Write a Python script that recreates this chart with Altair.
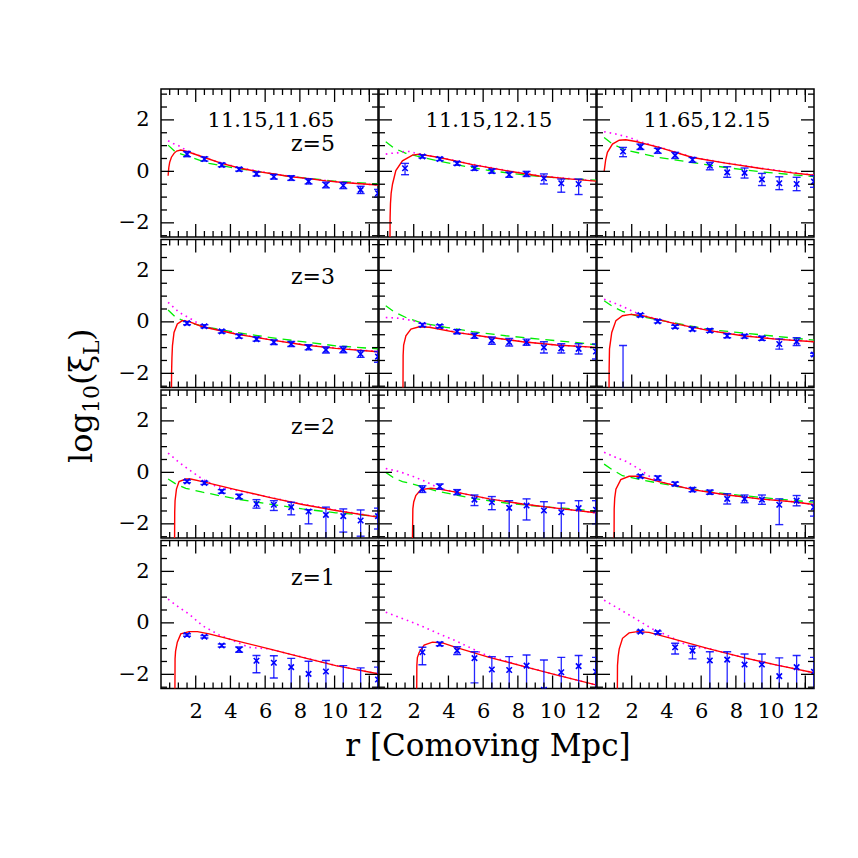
import altair as alt
import pandas as pd

FONT = "DejaVu Serif"
BLUE = "#0000ff"
RED = "#ff0000"
MAGENTA = "#ff00ff"
GREEN = "#00ee00"

R_PTS = [1.5, 2.5, 3.5, 4.5, 5.5, 6.5, 7.5, 8.5, 9.5, 10.5, 11.5, 12.5]
MASS_LABELS = ["11.15,11.65", "11.15,12.15", "11.65,12.15"]
Z_LABELS = ["z=5", "z=3", "z=2", "z=1"]
X_TICKLABELS = [2, 4, 6, 8, 10, 12]
Y_TICKLABELS = [-2, 0, 2]
X_MINOR = [0.5, 1, 1.5, 2.5, 3, 3.5, 4.5, 5, 5.5, 6.5, 7, 7.5, 8.5, 9, 9.5, 10.5, 11, 11.5, 12]
Y_MINOR = [-2.5, -1.5, -1, -0.5, 0.5, 1, 1.5, 2.5, 3]
X_TITLE = "r [Comoving Mpc]"

# ---------------- row 0 : z=5 ----------------
P00_px = R_PTS
P00_y = [0.67, 0.48, 0.25, 0.08, -0.10, -0.21, -0.26, -0.39, -0.53, -0.55, -0.72, -0.85]
P00_lo = [0.57, 0.40, 0.18, 0.01, -0.18, -0.30, -0.35, -0.49, -0.64, -0.67, -0.86, -1.0]
P00_hi = [0.77, 0.56, 0.32, 0.15, -0.02, -0.12, -0.17, -0.29, -0.42, -0.43, -0.58, -0.7]
P00_red_x = [0.41, 0.45, 0.5, 0.6, 0.75, 0.9, 1.14, 1.5, 2.5, 3.5, 4.5, 5.5, 6.5, 7.5, 8.5, 9.5, 10.5, 11.5, 12.5]
P00_red_y = [-0.17, 0.15, 0.35, 0.55, 0.7, 0.79, 0.83, 0.77, 0.54, 0.31, 0.13, 0.0, -0.1, -0.21, -0.28, -0.37, -0.43, -0.48, -0.53]
P00_mag_x = [0.41, 0.7, 1.04, 1.43, 2.0, 3.0, 4.5, 6.5, 8.5, 10.5, 12.5]
P00_mag_y = [1.19, 1.08, 0.99, 0.83, 0.66, 0.42, 0.14, -0.1, -0.28, -0.43, -0.53]
P00_grn_x = [0.41, 0.85, 1.62, 2.77, 4.5, 7.38, 10.0, 12.5]
P00_grn_y = [1.02, 0.74, 0.57, 0.31, 0.1, -0.19, -0.38, -0.49]

P01_px = R_PTS[:11]
P01_y = [0.12, 0.58, 0.48, 0.31, 0.12, 0.01, -0.13, -0.10, -0.27, -0.46, -0.49]
P01_lo = [-0.13, 0.52, 0.42, 0.24, 0.04, -0.07, -0.23, -0.2, -0.49, -0.81, -0.9]
P01_hi = [0.31, 0.64, 0.54, 0.38, 0.2, 0.09, -0.03, 0.0, -0.1, -0.3, -0.3]
P01_red_x = [0.63, 0.64, 0.66, 0.7, 0.78, 0.97, 1.35, 1.93, 2.3, 3.47, 5.39, 7.31, 9.23, 11.1, 12.5]
P01_red_y = [-3.0, -1.8, -1.26, -0.85, -0.49, 0.03, 0.41, 0.63, 0.67, 0.54, 0.26, 0.03, -0.18, -0.30, -0.38]
P01_mag_x = [0.39, 0.68, 1.07, 1.45, 1.74, 2.03, 3.5, 5.4, 7.3, 9.2, 11.1, 12.5]
P01_mag_y = [0.67, 0.70, 0.72, 0.77, 0.77, 0.72, 0.54, 0.27, 0.04, -0.17, -0.29, -0.37]
P01_grn_x = [0.39, 0.87, 1.55, 2.51, 4.43, 6.35, 8.5, 10.5, 12.5]
P01_grn_y = [1.15, 0.90, 0.70, 0.54, 0.26, 0.03, -0.15, -0.27, -0.34]

P02_px = R_PTS
P02_y = [0.77, 0.95, 0.81, 0.62, 0.45, 0.22, -0.04, -0.06, -0.31, -0.46, -0.49, -0.4]
P02_lo = [0.57, 0.85, 0.7, 0.5, 0.35, 0.06, -0.23, -0.26, -0.55, -0.71, -0.75, -0.62]
P02_hi = [0.93, 1.06, 0.9, 0.74, 0.54, 0.35, 0.18, 0.13, -0.08, -0.21, -0.23, -0.17]
P02_red_x = [0.41, 0.5, 0.6, 0.89, 1.28, 1.66, 2.24, 3.58, 5.5, 7.42, 9.35, 11.27, 12.5]
P02_red_y = [-0.01, 0.45, 0.74, 1.06, 1.21, 1.23, 1.16, 0.93, 0.54, 0.32, 0.12, -0.06, -0.15]
P02_mag_x = [0.41, 1.09, 1.85, 2.5, 3.6, 5.5, 7.4, 9.4, 11.3, 12.5]
P02_mag_y = [1.54, 1.45, 1.32, 1.15, 0.94, 0.55, 0.33, 0.13, -0.05, -0.14]
P02_grn_x = [0.41, 0.89, 1.66, 3.58, 5.5, 7.42, 9.35, 11.27, 12.5]
P02_grn_y = [1.32, 1.06, 0.83, 0.54, 0.34, 0.15, -0.01, -0.13, -0.2]

# ---------------- row 1 : z=3 ----------------
P10_px = R_PTS
P10_y = [-0.05, -0.17, -0.37, -0.56, -0.67, -0.79, -0.86, -0.99, -1.09, -1.08, -1.25, -1.35]
P10_lo = [-0.11, -0.23, -0.43, -0.63, -0.75, -0.88, -0.96, -1.09, -1.21, -1.2, -1.38, -1.57]
P10_hi = [0.01, -0.11, -0.31, -0.49, -0.59, -0.70, -0.76, -0.89, -0.97, -0.96, -1.12, -1.15]
P10_red_x = [0.6, 0.61, 0.63, 0.66, 0.75, 0.94, 1.23, 1.62, 2.39, 4.3, 6.23, 8.15, 10.07, 12.5]
P10_red_y = [-3.0, -1.96, -1.4, -0.92, -0.41, -0.08, 0.05, 0.01, -0.19, -0.47, -0.69, -0.89, -1.03, -1.16]
P10_mag_x = [0.41, 1.04, 1.81, 2.4, 4.3, 6.2, 8.2, 10.1, 12.5]
P10_mag_y = [0.76, 0.37, 0.08, -0.17, -0.46, -0.68, -0.88, -1.02, -1.15]
P10_grn_x = [0.41, 0.85, 1.43, 2.4, 4.3, 6.23, 8.15, 10.07, 12.5]
P10_grn_y = [0.46, 0.17, 0.0, -0.17, -0.41, -0.6, -0.77, -0.93, -1.05]

P11_px = R_PTS[1:]
P11_y = [-0.12, -0.17, -0.38, -0.54, -0.73, -0.79, -0.79, -0.99, -1.03, -1.05, -1.15]
P11_lo = [-0.18, -0.23, -0.46, -0.64, -0.87, -0.94, -0.91, -1.21, -1.21, -1.25, -1.44]
P11_hi = [-0.06, -0.11, -0.30, -0.44, -0.59, -0.64, -0.67, -0.77, -0.85, -0.85, -0.86]
P11_red_x = [1.38, 1.39, 1.42, 1.55, 1.84, 2.32, 2.9, 4.43, 6.35, 8.27, 10.2, 12.5]
P11_red_y = [-3.0, -1.31, -0.9, -0.54, -0.28, -0.19, -0.21, -0.41, -0.6, -0.77, -0.9, -0.99]
P11_mag_x = [0.39, 1.16, 1.92, 2.5, 3.0, 4.4, 6.4, 8.3, 10.2, 12.5]
P11_mag_y = [0.17, 0.14, 0.05, -0.05, -0.15, -0.4, -0.6, -0.77, -0.9, -0.99]
P11_grn_x = [0.39, 0.87, 1.55, 2.5, 3.85, 5.39, 7.3, 9.23, 11.15, 12.5]
P11_grn_y = [0.63, 0.39, 0.17, -0.05, -0.21, -0.38, -0.54, -0.67, -0.79, -0.89]

P12_px = R_PTS
P12_y = [-3.0, 0.26, 0.02, -0.19, -0.28, -0.34, -0.54, -0.56, -0.64, -0.86, -0.77, -1.27]
P12_lo = [-5.0, 0.2, -0.04, -0.25, -0.35, -0.41, -0.62, -0.63, -0.72, -1.06, -0.92, -1.32]
P12_hi = [-0.92, 0.32, 0.08, -0.13, -0.21, -0.27, -0.46, -0.49, -0.56, -0.66, -0.62, -1.22]
P12_red_x = [0.69, 0.7, 0.72, 0.85, 1.09, 1.47, 1.95, 2.62, 4.54, 6.47, 8.39, 10.3, 12.5]
P12_red_y = [-3.0, -1.8, -1.05, -0.41, 0.05, 0.24, 0.29, 0.24, -0.08, -0.34, -0.54, -0.67, -0.77]
P12_mag_x = [0.41, 0.89, 1.47, 2.05, 2.6, 4.5, 6.5, 8.4, 10.3, 12.5]
P12_mag_y = [0.88, 0.76, 0.6, 0.41, 0.26, -0.07, -0.33, -0.53, -0.66, -0.77]
P12_grn_x = [0.41, 0.89, 1.47, 2.24, 4.54, 6.47, 8.39, 10.3, 12.5]
P12_grn_y = [0.82, 0.60, 0.41, 0.24, -0.05, -0.3, -0.43, -0.56, -0.71]

# ---------------- row 2 : z=2 ----------------
P20_px = R_PTS
P20_y = [-0.35, -0.41, -0.74, -0.94, -1.23, -1.26, -1.35, -1.52, -1.65, -1.7, -1.87, -1.7]
P20_lo = [-0.40, -0.47, -0.81, -1.03, -1.39, -1.48, -1.65, -2.0, -3.0, -2.32, -2.48, -2.2]
P20_hi = [-0.30, -0.35, -0.67, -0.85, -1.06, -1.10, -1.16, -1.45, -1.35, -1.42, -1.46, -1.39]
P20_red_x = [0.78, 0.79, 0.81, 0.89, 1.04, 1.43, 1.71, 2.39, 4.3, 6.23, 8.15, 10.07, 12.5]
P20_red_y = [-3.0, -1.55, -1.1, -0.65, -0.36, -0.26, -0.26, -0.36, -0.67, -0.97, -1.25, -1.48, -1.74]
P20_mag_x = [0.41, 1.04, 1.62, 2.39, 3.16, 3.8, 6.2, 8.2, 10.1, 12.5]
P20_mag_y = [0.75, 0.39, 0.1, -0.26, -0.54, -0.62, -0.96, -1.24, -1.47, -1.73]
P20_grn_x = [0.41, 0.85, 1.43, 2.39, 4.3, 6.23, 8.15, 10.07, 12.5]
P20_grn_y = [-0.26, -0.45, -0.62, -0.77, -1.03, -1.23, -1.42, -1.57, -1.71]

P21_px = R_PTS[1:]
P21_y = [-0.65, -0.55, -0.77, -1.06, -1.16, -1.38, -1.29, -1.48, -1.55, -1.39, -1.45]
P21_lo = [-0.78, -0.65, -0.87, -1.29, -1.45, -3.0, -1.85, -3.0, -3.0, -3.0, -2.0]
P21_hi = [-0.52, -0.45, -0.67, -0.88, -0.94, -1.10, -1.03, -1.14, -1.19, -1.10, -1.10]
P21_red_x = [1.92, 1.95, 2.0, 2.12, 2.41, 2.99, 3.47, 4.43, 6.35, 8.27, 10.2, 12.5]
P21_red_y = [-3.0, -1.42, -1.15, -0.9, -0.67, -0.62, -0.65, -0.77, -1.03, -1.23, -1.39, -1.57]
P21_mag_x = [0.39, 1.16, 1.93, 2.7, 3.47, 4.4, 6.35, 8.27, 10.2, 12.5]
P21_mag_y = [0.15, 0.03, -0.15, -0.36, -0.62, -0.77, -1.03, -1.23, -1.39, -1.57]
P21_grn_x = [0.39, 0.87, 1.35, 1.93, 3.47, 5.39, 7.31, 9.23, 11.15, 12.5]
P21_grn_y = [0.0, -0.22, -0.36, -0.45, -0.75, -1.01, -1.19, -1.32, -1.42, -1.51]

P22_px = R_PTS[1:]
P22_y = [-0.15, -0.22, -0.45, -0.67, -0.77, -1.03, -1.03, -1.06, -1.26, -1.1, -1.35]
P22_lo = [-0.21, -0.30, -0.52, -0.75, -0.85, -1.23, -1.18, -1.24, -2.03, -1.3, -1.7]
P22_hi = [-0.09, -0.14, -0.38, -0.59, -0.69, -0.83, -0.88, -0.88, -1.03, -0.9, -1.1]
P22_red_x = [0.98, 0.99, 1.02, 1.09, 1.37, 1.85, 2.43, 3.58, 5.5, 7.42, 9.35, 11.27, 12.5]
P22_red_y = [-3.0, -1.42, -1.0, -0.65, -0.28, -0.15, -0.15, -0.36, -0.67, -0.87, -1.03, -1.14, -1.25]
P22_mag_x = [0.41, 1.09, 1.66, 2.43, 3.1, 3.6, 5.5, 7.4, 9.4, 11.3, 12.5]
P22_mag_y = [0.78, 0.58, 0.43, 0.13, -0.19, -0.36, -0.67, -0.87, -1.03, -1.14, -1.25]
P22_grn_x = [0.41, 0.89, 1.47, 2.62, 4.54, 6.47, 8.39, 10.3, 12.5]
P22_grn_y = [0.32, 0.1, -0.13, -0.3, -0.54, -0.75, -0.9, -1.03, -1.16]

# ---------------- row 3 : z=1 ----------------
P30_px = R_PTS
P30_y = [-0.47, -0.54, -0.88, -1.04, -1.47, -1.55, -1.72, -1.98, -1.89, -2.7, -2.8, -2.2]
P30_lo = [-0.52, -0.59, -0.94, -1.14, -1.94, -2.14, -3.0, -3.0, -3.0, -3.5, -3.5, -3.0]
P30_hi = [-0.42, -0.49, -0.82, -0.94, -1.27, -1.28, -1.38, -1.49, -1.46, -1.66, -1.75, -1.72]
P30_red_x = [0.8, 0.81, 0.84, 0.94, 1.14, 1.62, 2.1, 2.77, 4.3, 6.23, 8.15, 10.07, 12.5]
P30_red_y = [-3.0, -1.4, -1.1, -0.75, -0.43, -0.34, -0.34, -0.43, -0.69, -1.01, -1.34, -1.66, -1.98]
P30_mag_x = [0.41, 1.04, 1.62, 2.39, 3.35, 4.3, 5.07, 5.6, 6.2, 8.2, 10.1, 12.5]
P30_mag_y = [0.92, 0.6, 0.34, -0.11, -0.47, -0.73, -0.95, -0.98, -1.01, -1.34, -1.66, -1.98]

P31_px = R_PTS[1:]
P31_y = [-1.14, -0.82, -1.08, -1.37, -1.81, -1.83, -1.66, -2.6, -1.92, -1.68, -1.9]
P31_lo = [-1.63, -0.89, -1.23, -2.33, -3.0, -3.0, -3.0, -3.5, -3.0, -3.0, -3.0]
P31_hi = [-0.95, -0.75, -0.93, -1.12, -1.31, -1.31, -1.25, -1.44, -1.34, -1.27, -1.34]
P31_red_x = [2.17, 2.18, 2.21, 2.32, 2.6, 3.08, 3.66, 4.43, 6.35, 8.27, 10.2, 12.5]
P31_red_y = [-3.0, -1.66, -1.35, -1.14, -0.86, -0.75, -0.78, -0.95, -1.34, -1.68, -2.02, -2.41]
P31_mag_x = [0.39, 1.55, 2.51, 3.47, 4.43, 5.39, 6.16, 6.5, 8.3, 10.2, 12.5]
P31_mag_y = [0.41, 0.12, -0.14, -0.43, -0.7, -1.01, -1.25, -1.33, -1.68, -2.02, -2.41]

P32_px = R_PTS[1:]
P32_y = [-0.34, -0.37, -0.95, -1.08, -1.46, -1.43, -1.62, -1.62, -2.07, -1.72, -1.9]
P32_lo = [-0.39, -0.42, -1.21, -1.4, -3.0, -3.0, -3.0, -3.0, -3.0, -3.0, -3.0]
P32_hi = [-0.29, -0.32, -0.79, -0.91, -1.12, -1.12, -1.21, -1.21, -1.36, -1.27, -1.34]
P32_red_x = [1.17, 1.18, 1.22, 1.28, 1.47, 1.85, 2.33, 3.0, 4.54, 6.47, 8.39, 10.3, 12.5]
P32_red_y = [-3.0, -1.66, -1.3, -1.01, -0.6, -0.39, -0.34, -0.37, -0.65, -1.01, -1.34, -1.63, -1.94]
P32_mag_x = [0.41, 1.28, 2.24, 3.2, 4.16, 5.12, 5.6, 6.5, 8.4, 10.3, 12.5]
P32_mag_y = [0.88, 0.54, 0.15, -0.24, -0.52, -0.85, -0.93, -1.01, -1.34, -1.63, -1.94]

PANELS = {
    (0, 0): (P00_px, P00_y, P00_lo, P00_hi, P00_red_x, P00_red_y, P00_mag_x, P00_mag_y, P00_grn_x, P00_grn_y),
    (0, 1): (P01_px, P01_y, P01_lo, P01_hi, P01_red_x, P01_red_y, P01_mag_x, P01_mag_y, P01_grn_x, P01_grn_y),
    (0, 2): (P02_px, P02_y, P02_lo, P02_hi, P02_red_x, P02_red_y, P02_mag_x, P02_mag_y, P02_grn_x, P02_grn_y),
    (1, 0): (P10_px, P10_y, P10_lo, P10_hi, P10_red_x, P10_red_y, P10_mag_x, P10_mag_y, P10_grn_x, P10_grn_y),
    (1, 1): (P11_px, P11_y, P11_lo, P11_hi, P11_red_x, P11_red_y, P11_mag_x, P11_mag_y, P11_grn_x, P11_grn_y),
    (1, 2): (P12_px, P12_y, P12_lo, P12_hi, P12_red_x, P12_red_y, P12_mag_x, P12_mag_y, P12_grn_x, P12_grn_y),
    (2, 0): (P20_px, P20_y, P20_lo, P20_hi, P20_red_x, P20_red_y, P20_mag_x, P20_mag_y, P20_grn_x, P20_grn_y),
    (2, 1): (P21_px, P21_y, P21_lo, P21_hi, P21_red_x, P21_red_y, P21_mag_x, P21_mag_y, P21_grn_x, P21_grn_y),
    (2, 2): (P22_px, P22_y, P22_lo, P22_hi, P22_red_x, P22_red_y, P22_mag_x, P22_mag_y, P22_grn_x, P22_grn_y),
    (3, 0): (P30_px, P30_y, P30_lo, P30_hi, P30_red_x, P30_red_y, P30_mag_x, P30_mag_y, None, None),
    (3, 1): (P31_px, P31_y, P31_lo, P31_hi, P31_red_x, P31_red_y, P31_mag_x, P31_mag_y, None, None),
    (3, 2): (P32_px, P32_y, P32_lo, P32_hi, P32_red_x, P32_red_y, P32_mag_x, P32_mag_y, None, None),
}

W, H = 217, 148
XS = alt.Scale(domain=[0, 12.5], nice=False, zero=False)
YS = alt.Scale(domain=[-2.55, 3.2], nice=False, zero=False)
XPATH = "M-1,-1L1,1M-1,1L1,-1"
MAJ, MIN = 13, 6
LABEL_SIZE = 21


def make_axis(kind, show, title_text):
    if not show:
        return None
    kw = dict(ticks=False, domain=False, grid=False, labelFont=FONT, labelFontSize=LABEL_SIZE,
              labelColor="black", labelFlush=False, title=title_text)
    if kind == "x":
        kw.update(values=X_TICKLABELS, labelPadding=12)
        if title_text:
            kw.update(titleFont=FONT, titleFontSize=31, titleFontWeight="normal",
                      titleColor="black", titlePadding=10)
    else:
        kw.update(values=Y_TICKLABELS, labelPadding=12)
    return alt.Axis(**kw)


def make_panel(row, col):
    px, py, lo, hi, rx, ry, mx, my, gx, gy = PANELS[(row, col)]
    xaxis = make_axis("x", row == 3, X_TITLE if (row == 3 and col == 1) else None)
    yaxis = make_axis("y", col == 0, None)

    def X(f):
        return alt.X(f"{f}:Q", scale=XS, axis=xaxis)

    def Y(f):
        return alt.Y(f"{f}:Q", scale=YS, axis=yaxis)

    layers = []

    def line(xs, ys, color, width, dash=None):
        df = pd.DataFrame({"x": xs, "y": ys})
        kw = dict(color=color, strokeWidth=width, clip=True)
        if dash:
            kw["strokeDash"] = dash
        return alt.Chart(df).mark_line(**kw).encode(x=X("x"), y=Y("y"))

    if gx is not None:
        layers.append(line(gx, gy, GREEN, 1.3, [9, 6]))
    layers.append(line(mx, my, MAGENTA, 1.6, [1.6, 4]))
    layers.append(line(rx, ry, RED, 1.4))

    dfp = pd.DataFrame({"x": px, "y": py, "lo": lo, "hi": hi})
    layers.append(alt.Chart(dfp).mark_rule(color=BLUE, strokeWidth=1.3, opacity=0.85, clip=True)
                  .encode(x=X("x"), y=Y("lo"), y2="hi:Q"))
    for f in ("lo", "hi"):
        layers.append(alt.Chart(dfp).mark_tick(orient="horizontal", size=8, thickness=1.4,
                                               color=BLUE, opacity=0.85, clip=True)
                      .encode(x=X("x"), y=Y(f)))
    layers.append(alt.Chart(dfp).mark_point(shape=XPATH, size=30, strokeWidth=1.6, color=BLUE,
                                            filled=False, opacity=1, clip=True)
                  .encode(x=X("x"), y=Y("y")))

    # inward frame ticks on all four sides
    for vals, ln in ((X_TICKLABELS, MAJ), (X_MINOR, MIN)):
        dft = pd.DataFrame({"x": vals})
        layers.append(alt.Chart(dft).mark_rule(color="black", strokeWidth=1.3)
                      .encode(x=X("x"), y=alt.value(H), y2=alt.value(H - ln)))
        layers.append(alt.Chart(dft).mark_rule(color="black", strokeWidth=1.3)
                      .encode(x=X("x"), y=alt.value(0), y2=alt.value(ln)))
    for vals, ln in ((Y_TICKLABELS, MAJ), (Y_MINOR, MIN)):
        dft = pd.DataFrame({"y": vals})
        layers.append(alt.Chart(dft).mark_rule(color="black", strokeWidth=1.3)
                      .encode(y=Y("y"), x=alt.value(0), x2=alt.value(ln)))
        layers.append(alt.Chart(dft).mark_rule(color="black", strokeWidth=1.3)
                      .encode(y=Y("y"), x=alt.value(W), x2=alt.value(W - ln)))

    if row == 0:
        layers.append(alt.Chart(pd.DataFrame({"t": [MASS_LABELS[col]]}))
                      .mark_text(font=FONT, fontSize=21, color="black", align="center", baseline="middle")
                      .encode(text="t:N", x=alt.value(110), y=alt.value(31.5)))
    if col == 0:
        layers.append(alt.Chart(pd.DataFrame({"t": [Z_LABELS[row]]}))
                      .mark_text(font=FONT, fontSize=22, color="black", align="right", baseline="middle")
                      .encode(text="t:N", x=alt.value(174), y=alt.value(55 if row == 0 else 37)))

    return alt.layer(*layers).properties(width=W, height=H)


panels = [make_panel(r, c) for r in range(4) for c in range(3)]
grid = alt.concat(*panels, columns=3, spacing=alt.RowColnumber(row=2.5, column=1), bounds="flush")

# y-axis title built from pieces (with subscripts)
TITLE_H = 4 * H + 3 * 2.5
ytitle_parts = [("log", 32, 374, 78), ("10", 22, 324, 85), ("(ξ", 32, 296, 78), ("L", 22, 266, 85), (")", 32, 252, 78)]
tlayers = []
for txt, fs, ypos, xpos in ytitle_parts:
    tlayers.append(alt.Chart(pd.DataFrame({"t": [txt]}))
                   .mark_text(font=FONT, fontSize=fs, color="black", angle=270, align="left",
                              baseline="alphabetic")
                   .encode(text="t:N", x=alt.value(xpos), y=alt.value(ypos)))
ytitle = alt.layer(*tlayers).properties(width=102, height=TITLE_H,
                                        view=alt.ViewBackground(stroke="transparent"))

chart = alt.hconcat(ytitle, grid, spacing=0).properties(
    padding={"left": 5, "top": 79, "right": 5, "bottom": 5}
).configure_view(stroke="black", strokeWidth=1.5).configure_axis(
    labelFont=FONT, labelFontSize=LABEL_SIZE
)

chart.save("out.html", embed_options={"renderer": "svg", "actions": False})
